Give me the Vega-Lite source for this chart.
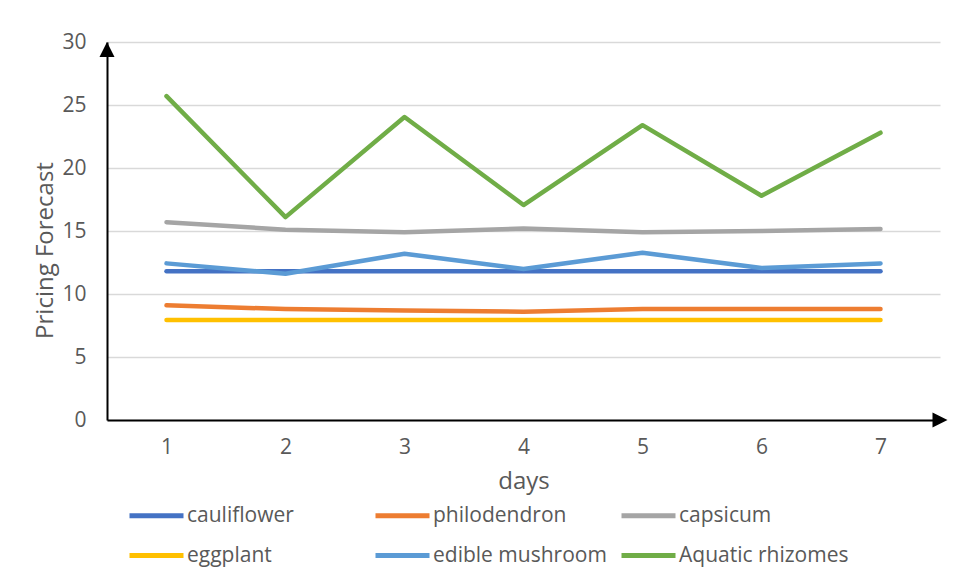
{
  "$schema": "https://vega.github.io/schema/vega-lite/v6.json",
  "width": 833,
  "height": 378,
  "autosize": {"type": "none"},
  "padding": {"left": 107, "top": 42, "right": 18, "bottom": 162},
  "background": "white",
  "config": {
    "font": "Open Sans",
    "view": {"stroke": null}
  },
  "data": {
    "values": [
      {"day": 1, "item": "cauliflower", "price": 11.8},
      {"day": 2, "item": "cauliflower", "price": 11.8},
      {"day": 3, "item": "cauliflower", "price": 11.8},
      {"day": 4, "item": "cauliflower", "price": 11.8},
      {"day": 5, "item": "cauliflower", "price": 11.8},
      {"day": 6, "item": "cauliflower", "price": 11.8},
      {"day": 7, "item": "cauliflower", "price": 11.8},
      {"day": 1, "item": "philodendron", "price": 9.1},
      {"day": 2, "item": "philodendron", "price": 8.8},
      {"day": 3, "item": "philodendron", "price": 8.7},
      {"day": 4, "item": "philodendron", "price": 8.6},
      {"day": 5, "item": "philodendron", "price": 8.8},
      {"day": 6, "item": "philodendron", "price": 8.8},
      {"day": 7, "item": "philodendron", "price": 8.8},
      {"day": 1, "item": "capsicum", "price": 15.7},
      {"day": 2, "item": "capsicum", "price": 15.1},
      {"day": 3, "item": "capsicum", "price": 14.9},
      {"day": 4, "item": "capsicum", "price": 15.2},
      {"day": 5, "item": "capsicum", "price": 14.9},
      {"day": 6, "item": "capsicum", "price": 15.0},
      {"day": 7, "item": "capsicum", "price": 15.16},
      {"day": 1, "item": "eggplant", "price": 7.94},
      {"day": 2, "item": "eggplant", "price": 7.94},
      {"day": 3, "item": "eggplant", "price": 7.94},
      {"day": 4, "item": "eggplant", "price": 7.94},
      {"day": 5, "item": "eggplant", "price": 7.94},
      {"day": 6, "item": "eggplant", "price": 7.94},
      {"day": 7, "item": "eggplant", "price": 7.94},
      {"day": 1, "item": "edible mushroom", "price": 12.43},
      {"day": 2, "item": "edible mushroom", "price": 11.6},
      {"day": 3, "item": "edible mushroom", "price": 13.2},
      {"day": 4, "item": "edible mushroom", "price": 11.98},
      {"day": 5, "item": "edible mushroom", "price": 13.28},
      {"day": 6, "item": "edible mushroom", "price": 12.06},
      {"day": 7, "item": "edible mushroom", "price": 12.43},
      {"day": 1, "item": "Aquatic rhizomes", "price": 25.7},
      {"day": 2, "item": "Aquatic rhizomes", "price": 16.1},
      {"day": 3, "item": "Aquatic rhizomes", "price": 24.05},
      {"day": 4, "item": "Aquatic rhizomes", "price": 17.06},
      {"day": 5, "item": "Aquatic rhizomes", "price": 23.4},
      {"day": 6, "item": "Aquatic rhizomes", "price": 17.8},
      {"day": 7, "item": "Aquatic rhizomes", "price": 22.8}
    ]
  },
  "layer": [
    {
      "mark": {"type": "line", "strokeWidth": 4.5, "strokeCap": "round", "strokeJoin": "round"},
      "encoding": {
        "x": {
          "field": "day",
          "type": "quantitative",
          "scale": {"domain": [0.5, 7.5], "nice": false, "zero": false},
          "axis": {
            "values": [1, 2, 3, 4, 5, 6, 7],
            "format": "d",
            "grid": false,
            "ticks": false,
            "domainColor": "black",
            "domainWidth": 2,
            "labelFontSize": 21,
            "labelColor": "#595959",
            "labelPadding": 16,
            "title": "days",
            "titleFontSize": 24,
            "titleFontWeight": "normal",
            "titleColor": "#595959",
            "titlePadding": 12
          }
        },
        "y": {
          "field": "price",
          "type": "quantitative",
          "scale": {"domain": [0, 30], "nice": false},
          "axis": {
            "values": [0, 5, 10, 15, 20, 25, 30],
            "grid": true,
            "gridColor": "#d9d9d9",
            "gridWidth": 1.5,
            "ticks": false,
            "domainColor": "black",
            "domainWidth": 2,
            "labelFontSize": 21,
            "labelColor": "#595959",
            "labelPadding": 21,
            "title": "Pricing Forecast",
            "titleFontSize": 24,
            "titleFontWeight": "normal",
            "titleColor": "#595959",
            "titlePadding": 4,
            "titleY": 208
          }
        },
        "color": {
          "field": "item",
          "type": "nominal",
          "scale": {
            "domain": ["cauliflower", "philodendron", "capsicum", "eggplant", "edible mushroom", "Aquatic rhizomes"],
            "range": ["#4472C4", "#ED7D31", "#A5A5A5", "#FFC000", "#5B9BD5", "#70AD47"]
          },
          "legend": {
            "orient": "none",
            "legendX": 20,
            "legendY": 444,
            "direction": "horizontal",
            "columns": 3,
            "title": null,
            "symbolType": "stroke",
            "symbolSize": 2916,
            "symbolStrokeWidth": 5,
            "labelFontSize": 21,
            "labelColor": "#595959",
            "labelOffset": 1,
            "labelLimit": 300,
            "columnPadding": 4,
            "rowPadding": -5,
            "gridAlign": "all",
            "padding": 0
          }
        }
      }
    },
    {
      "data": {"values": [{}]},
      "mark": {"type": "point", "shape": "M0,0L1,2L-1,2Z", "filled": true, "color": "black", "size": 225, "opacity": 1},
      "encoding": {
        "x": {"datum": 0.5, "type": "quantitative"},
        "y": {"datum": 30, "type": "quantitative"}
      }
    },
    {
      "data": {"values": [{}]},
      "mark": {"type": "point", "shape": "M1,0L-1,-1L-1,1Z", "filled": true, "color": "black", "size": 225, "opacity": 1},
      "encoding": {
        "x": {"datum": 7.5, "type": "quantitative"},
        "y": {"datum": 0, "type": "quantitative"}
      }
    }
  ]
}
